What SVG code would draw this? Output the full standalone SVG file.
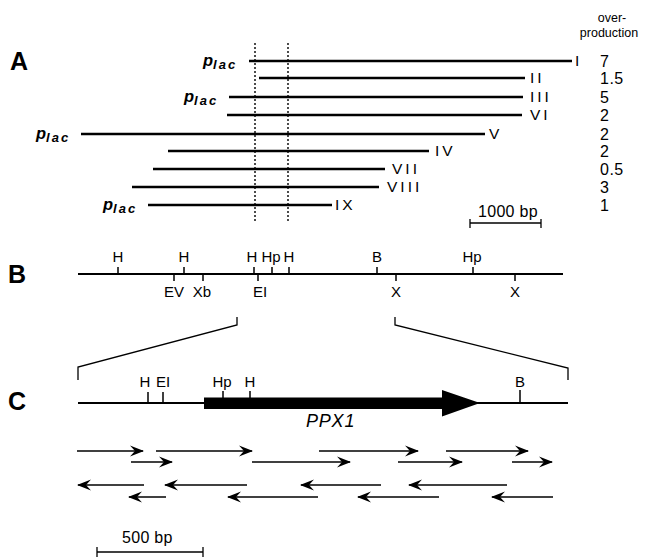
<svg xmlns="http://www.w3.org/2000/svg" width="648" height="557" viewBox="0 0 648 557">
<defs>
<style>
text{font-family:"Liberation Sans",Arial,sans-serif;fill:#000}
.panel{font-size:25px;font-weight:bold}
.num{font-size:16px;letter-spacing:0.5px}
.rn{font-size:15.5px;letter-spacing:3px}
.site{font-size:15px;text-anchor:middle}
.plac{font-size:16.5px;font-style:italic;font-weight:bold}
.plac tspan{font-size:13px;letter-spacing:2px}
.bar{font-size:16px;letter-spacing:0.3px}
.clone{stroke:#000;stroke-width:2.6;fill:none}
.map{stroke:#000;stroke-width:2.2;fill:none}
.tick{stroke:#000;stroke-width:1.5;fill:none}
.dot{stroke:#000;stroke-width:1.4;stroke-dasharray:2,2;fill:none}
.seq{stroke:#000;stroke-width:1.6;fill:none;marker-end:url(#ah)}
.thin{stroke:#000;stroke-width:1.3;fill:none}
</style>
<marker id="ah" viewBox="0 0 14 12" refX="13" refY="6" markerWidth="14" markerHeight="12" orient="auto" markerUnits="userSpaceOnUse">
<path d="M0,0.5 L14,6 L0,11.5 L5,6 Z" fill="#000"/>
</marker>
</defs>

<g id="labels">
<text class="panel" x="10" y="70">A</text>
<text class="panel" x="8" y="283">B</text>
<text class="panel" x="8" y="410">C</text>
</g>

<g id="panelA">
<g id="header">
<text x="612" y="22" font-size="12.5" text-anchor="middle">over-</text>
<text x="609" y="37" font-size="12.5" text-anchor="middle">production</text>
</g>
<g id="dotted">
<line class="dot" x1="255" y1="43" x2="255" y2="221"/>
<line class="dot" x1="288" y1="43" x2="288" y2="221"/>
</g>
<g id="cloneI">
<line class="clone" x1="249" y1="61" x2="572" y2="61"/>
<text class="plac" x="203" y="66">p<tspan dy="3">lac</tspan></text>
<text class="rn" x="575" y="66">I</text>
<text class="num" x="600" y="67">7</text>
</g>
<g id="cloneII">
<line class="clone" x1="259" y1="78" x2="525" y2="78"/>
<text class="rn" x="530" y="83">II</text>
<text class="num" x="600" y="84">1.5</text>
</g>
<g id="cloneIII">
<line class="clone" x1="229" y1="97" x2="523" y2="97"/>
<text class="plac" x="184" y="102">p<tspan dy="3">lac</tspan></text>
<text class="rn" x="530" y="102">III</text>
<text class="num" x="600" y="103">5</text>
</g>
<g id="cloneVI">
<line class="clone" x1="227" y1="115" x2="522" y2="115"/>
<text class="rn" x="530" y="120">VI</text>
<text class="num" x="600" y="121">2</text>
</g>
<g id="cloneV">
<line class="clone" x1="81" y1="134" x2="485" y2="134"/>
<text class="plac" x="36" y="139">p<tspan dy="3">lac</tspan></text>
<text class="rn" x="489" y="139">V</text>
<text class="num" x="600" y="140">2</text>
</g>
<g id="cloneIV">
<line class="clone" x1="168" y1="151" x2="429" y2="151"/>
<text class="rn" x="435" y="156">IV</text>
<text class="num" x="600" y="157">2</text>
</g>
<g id="cloneVII">
<line class="clone" x1="153" y1="169" x2="385" y2="169"/>
<text class="rn" x="392" y="174">VII</text>
<text class="num" x="600" y="175">0.5</text>
</g>
<g id="cloneVIII">
<line class="clone" x1="132" y1="187" x2="379" y2="187"/>
<text class="rn" x="387" y="192">VIII</text>
<text class="num" x="600" y="193">3</text>
</g>
<g id="cloneIX">
<line class="clone" x1="148" y1="205" x2="332" y2="205"/>
<text class="plac" x="103" y="210">p<tspan dy="3">lac</tspan></text>
<text class="rn" x="335" y="210">IX</text>
<text class="num" x="600" y="211">1</text>
</g>
<g id="scale1000">
<text class="bar" x="478" y="217">1000 bp</text>
<line class="thin" x1="470" y1="223" x2="541" y2="223"/>
<line class="thin" x1="470" y1="219" x2="470" y2="228"/>
<line class="thin" x1="541" y1="219" x2="541" y2="228"/>
</g>
</g>

<g id="panelB">
<line class="map" x1="78" y1="274" x2="563" y2="274"/>
<g id="sitesB">
<path class="tick" d="M118,267V274 M184,267V274 M254,267V274 M272,267V274 M289,267V274 M377,267V274 M473,267V274"/>
<path class="tick" d="M174,274V281 M203,274V281 M258,274V281 M396,274V281 M515,274V281"/>
<text class="site" x="118" y="262">H</text>
<text class="site" x="184" y="262">H</text>
<text class="site" x="252" y="262">H</text>
<text class="site" x="271" y="262">Hp</text>
<text class="site" x="289" y="262">H</text>
<text class="site" x="377" y="262">B</text>
<text class="site" x="472" y="262">Hp</text>
<text class="site" x="174" y="297">EV</text>
<text class="site" x="202" y="297">Xb</text>
<text class="site" x="260" y="297">EI</text>
<text class="site" x="396" y="297">X</text>
<text class="site" x="515" y="297">X</text>
</g>
</g>

<g id="connectors">
<polyline class="thin" points="237,317 237,325 78,367 78,380"/>
<polyline class="thin" points="395,317 395,325 568,368 568,380"/>
</g>

<g id="panelC">
<line class="map" x1="78" y1="403" x2="568" y2="403"/>
<path class="tick" d="M148,392V403 M163,392V403 M223,391V398 M250,391V398 M520,390V403"/>
<text class="site" x="145" y="387">H</text>
<text class="site" x="163" y="387">EI</text>
<text class="site" x="222" y="387">Hp</text>
<text class="site" x="250" y="387">H</text>
<text class="site" x="520" y="387">B</text>
<g id="PPX1">
<polygon points="204,397.5 442,397.5 442,390 480,403 442,416.5 442,409 204,409" fill="#000"/>
<text x="306" y="427" font-size="18" font-style="italic" letter-spacing="0.8">PPX1</text>
</g>
<g id="sequencing">
<line class="seq" x1="77" y1="451" x2="143" y2="451"/>
<line class="seq" x1="156" y1="451" x2="252" y2="451"/>
<line class="seq" x1="319" y1="451" x2="418" y2="451"/>
<line class="seq" x1="446" y1="451" x2="528" y2="451"/>
<line class="seq" x1="131" y1="462" x2="172" y2="462"/>
<line class="seq" x1="252" y1="462" x2="350" y2="462"/>
<line class="seq" x1="398" y1="462" x2="462" y2="462"/>
<line class="seq" x1="512" y1="462" x2="552" y2="462"/>
<line class="seq" x1="144" y1="485" x2="78" y2="485"/>
<line class="seq" x1="247" y1="485" x2="165" y2="485"/>
<line class="seq" x1="381" y1="485" x2="301" y2="485"/>
<line class="seq" x1="507" y1="485" x2="409" y2="485"/>
<line class="seq" x1="166" y1="497" x2="129" y2="497"/>
<line class="seq" x1="318" y1="497" x2="228" y2="497"/>
<line class="seq" x1="439" y1="497" x2="358" y2="497"/>
<line class="seq" x1="553" y1="497" x2="492" y2="497"/>
</g>
<g id="scale500">
<text class="bar" x="122" y="543">500 bp</text>
<line class="thin" x1="97" y1="552" x2="203" y2="552"/>
<line class="thin" x1="97" y1="547" x2="97" y2="557"/>
<line class="thin" x1="203" y1="547" x2="203" y2="557"/>
</g>
</g>
</svg>
